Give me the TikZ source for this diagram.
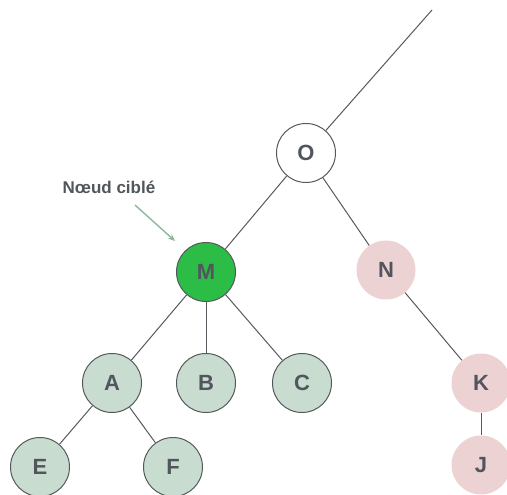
\documentclass[tikz,border=0pt]{standalone}
\usepackage{fontspec}
\setmainfont{Liberation Sans}
\usetikzlibrary{arrows.meta}
\definecolor{ink}{HTML}{51565C}
\definecolor{edgegray}{HTML}{55595E}
\definecolor{target}{HTML}{2BBD45}
\definecolor{sage}{HTML}{C8DDD0}
\definecolor{rose}{HTML}{EDD2D4}
\definecolor{pointer}{HTML}{8DB89D}
\tikzset{
  x=1pt, y=-1pt,
  tnode/.style={circle, minimum size=59pt, inner sep=0pt,
    font=\fontsize{22}{22}\selectfont\bfseries, text=ink},
  plain/.style={tnode, draw=edgegray, line width=1pt, fill=white},
  found/.style={tnode, draw=edgegray, line width=1pt, fill=target},
  sub/.style={tnode, draw=edgegray, line width=1pt, fill=sage},
  other/.style={tnode, fill=rose},
  link/.style={draw=edgegray, line width=1pt},
}
\begin{document}
\begin{tikzpicture}
\useasboundingbox (0,0) rectangle (507,495);
% nodes of the tree
\node[plain] (O) at (306,153) {O};
\node[found] (M) at (206,272) {M};
\node[other] (N) at (386,270) {N};
\node[sub] (A) at (112,383) {A};
\node[sub] (B) at (206,383) {B};
\node[sub] (C) at (302,383) {C};
\node[other] (K) at (481,383) {K};
\node[sub] (E) at (40,467) {E};
\node[sub] (F) at (173,467) {F};
\node[other] (J) at (481,465) {J};
\coordinate (up) at (432,10);
% edges
\draw[link] (O) -- (up);
\draw[link] (O) -- (M);
\draw[link] (O) -- (N);
\draw[link] (M) -- (A);
\draw[link] (M) -- (B);
\draw[link] (M) -- (C);
\draw[link] (N) -- (K);
\draw[link] (K) -- (J);
\draw[link] (A) -- (E);
\draw[link] (A) -- (F);
% annotation
\node[font=\fontsize{17}{17}\selectfont\bfseries, text=ink] (lbl) at (109,187) {Nœud ciblé};
\coordinate (tipstart) at (135,205);
\coordinate (tipend) at (175,241);
\draw[pointer, line width=1.4pt, -{Stealth[length=7pt,width=6pt]}] (tipstart) -- (tipend);
\end{tikzpicture}
\end{document}
